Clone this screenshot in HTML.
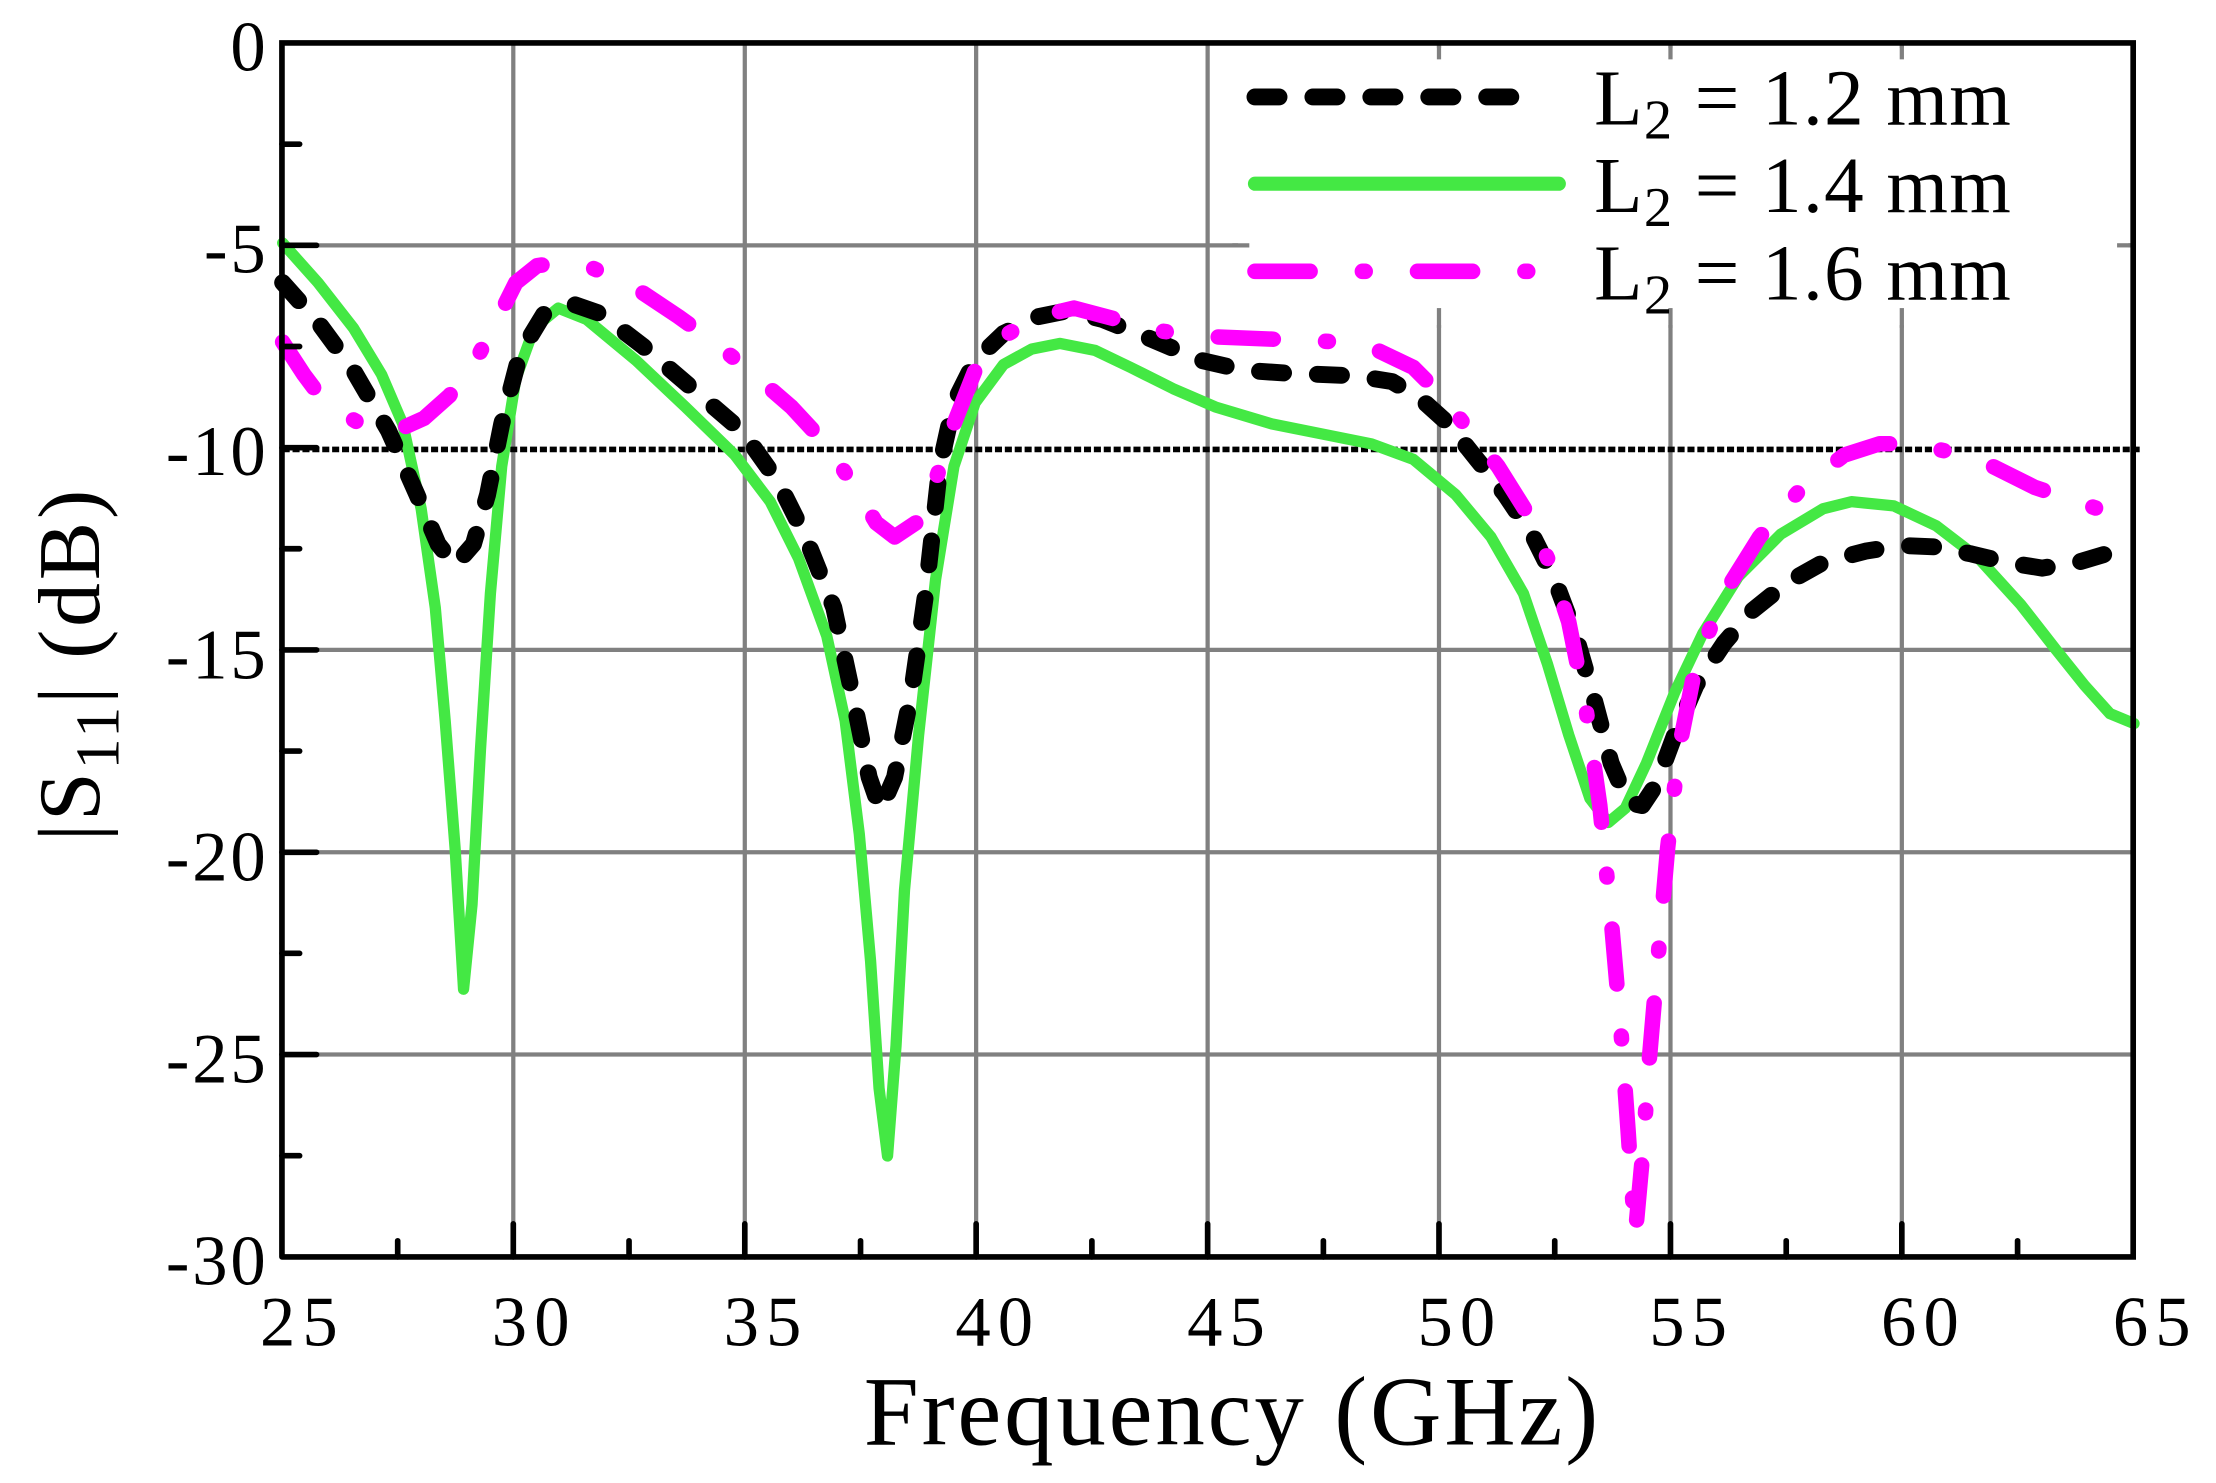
<!DOCTYPE html>
<html><head><meta charset="utf-8"><style>
html,body{margin:0;padding:0;background:#fff;}
svg{display:block;}
text{font-family:"Liberation Serif",serif;fill:#000;}
</style></head><body>
<svg width="2216" height="1483" viewBox="0 0 1568 1049.4" preserveAspectRatio="none" xmlns="http://www.w3.org/2000/svg">
<g stroke="#808080" stroke-width="3">
<line x1="363.2" y1="30.4" x2="363.2" y2="889.4"/>
<line x1="527" y1="30.4" x2="527" y2="889.4"/>
<line x1="690.7" y1="30.4" x2="690.7" y2="889.4"/>
<line x1="854.5" y1="30.4" x2="854.5" y2="889.4"/>
<line x1="1018.2" y1="30.4" x2="1018.2" y2="889.4"/>
<line x1="1182" y1="30.4" x2="1182" y2="889.4"/>
<line x1="1345.7" y1="30.4" x2="1345.7" y2="889.4"/>
<line x1="199.5" y1="173.6" x2="1509.4" y2="173.6"/>
<line x1="199.5" y1="459.9" x2="1509.4" y2="459.9"/>
<line x1="199.5" y1="603.1" x2="1509.4" y2="603.1"/>
<line x1="199.5" y1="746.2" x2="1509.4" y2="746.2"/>
</g>
<rect x="876" y="34" width="630" height="196" fill="#fff"/>
<g stroke="#808080" stroke-width="3">
<line x1="1018.2" y1="30.4" x2="1018.2" y2="42"/><line x1="1182" y1="30.4" x2="1182" y2="42"/><line x1="1345.7" y1="30.4" x2="1345.7" y2="42"/>
<line x1="1018.2" y1="218" x2="1018.2" y2="232"/><line x1="1182" y1="218" x2="1182" y2="232"/><line x1="1345.7" y1="218" x2="1345.7" y2="232"/>
<line x1="872" y1="173.6" x2="884" y2="173.6"/><line x1="1498" y1="173.6" x2="1509" y2="173.6"/>
</g>
<line x1="200" y1="318" x2="1515" y2="318" stroke="#000" stroke-width="4" stroke-dasharray="5 2"/>
<g fill="none" stroke-linejoin="round" stroke-linecap="round">
<polyline stroke="#44e844" stroke-width="8" points="200,172 225,200 250,232 270,265 285,300 298,360 308,430 315,510 322,600 328,700 334,640 340,530 347,420 355,330 365,268 378,232 395,218 415,226 450,255 485,288 520,322 545,355 565,395 585,450 598,510 608,590 616,680 622,770 628,818 634,740 640,630 650,520 662,410 675,330 690,285 710,258 730,247 750,243 775,248 800,260 830,275 860,288 900,300 940,308 970,314 1000,325 1030,350 1055,380 1078,420 1095,470 1110,520 1125,565 1138,582 1150,572 1165,540 1185,490 1205,448 1230,408 1260,378 1290,360 1310,355 1340,358 1370,372 1400,395 1430,428 1455,460 1475,485 1493,505 1510,512"/>
<polyline stroke="#000" stroke-width="12" stroke-dasharray="17 24" points="200,200 225,228 250,262 275,305 295,350 310,385 322,400 335,385 345,350 355,300 368,250 385,222 405,215 425,222 455,245 490,275 525,305 550,340 570,380 590,430 605,500 615,550 623,573 633,550 645,490 655,420 665,330 675,285 690,255 710,236 735,224 755,220 780,226 810,238 850,255 880,262 910,264 960,266 985,270 1005,282 1025,300 1045,325 1065,350 1085,380 1100,410 1115,450 1128,495 1140,540 1152,568 1162,570 1172,555 1185,520 1200,485 1220,455 1240,432 1265,412 1290,398 1320,390 1345,386 1370,387 1395,392 1420,398 1445,402 1470,398 1490,392 1510,385"/>
<polyline stroke="#ff00ff" stroke-width="11" stroke-dasharray="39 37 2 37" points="200,242 215,265 230,285 255,300 280,305 300,296 318,280 335,258 350,230 365,200 380,188 395,186 420,190 450,204 480,224 505,242 530,262 560,288 585,315 605,345 620,370 633,380 648,370 662,340 675,300 690,262 710,238 735,224 760,218 790,226 820,234 850,238 900,240 950,242 975,248 1000,260 1020,280 1040,305 1060,330 1080,362 1095,395 1110,440 1122,500 1132,570 1140,650 1147,730 1152,800 1157,875 1162,820 1167,750 1173,680 1180,600 1188,530 1200,470 1220,420 1245,380 1275,345 1305,322 1330,314 1355,314 1380,320 1410,330 1440,345 1470,355 1490,362"/>
</g>
<g stroke="#000" stroke-width="4" stroke-linecap="round">
<polyline fill="none" points="199.5,889.4 199.5,30.4 1509.4,30.4 1509.4,889.4 199.5,889.4"/>
<line x1="199.5" y1="102" x2="212" y2="102"/><line x1="199.5" y1="173.6" x2="224" y2="173.6"/>
<line x1="199.5" y1="245.2" x2="212" y2="245.2"/><line x1="199.5" y1="316.8" x2="224" y2="316.8"/>
<line x1="199.5" y1="388.3" x2="212" y2="388.3"/><line x1="199.5" y1="459.9" x2="224" y2="459.9"/>
<line x1="199.5" y1="531.5" x2="212" y2="531.5"/><line x1="199.5" y1="603.1" x2="224" y2="603.1"/>
<line x1="199.5" y1="674.6" x2="212" y2="674.6"/><line x1="199.5" y1="746.2" x2="224" y2="746.2"/>
<line x1="199.5" y1="817.8" x2="212" y2="817.8"/>
<line x1="281.4" y1="889.4" x2="281.4" y2="878"/><line x1="363.2" y1="889.4" x2="363.2" y2="866"/>
<line x1="445.1" y1="889.4" x2="445.1" y2="878"/><line x1="527" y1="889.4" x2="527" y2="866"/>
<line x1="608.9" y1="889.4" x2="608.9" y2="878"/><line x1="690.7" y1="889.4" x2="690.7" y2="866"/>
<line x1="772.6" y1="889.4" x2="772.6" y2="878"/><line x1="854.5" y1="889.4" x2="854.5" y2="866"/>
<line x1="936.4" y1="889.4" x2="936.4" y2="878"/><line x1="1018.2" y1="889.4" x2="1018.2" y2="866"/>
<line x1="1100.1" y1="889.4" x2="1100.1" y2="878"/><line x1="1182" y1="889.4" x2="1182" y2="866"/>
<line x1="1263.9" y1="889.4" x2="1263.9" y2="878"/><line x1="1345.7" y1="889.4" x2="1345.7" y2="866"/>
<line x1="1427.6" y1="889.4" x2="1427.6" y2="878"/>
</g>
<g font-size="50" text-anchor="end" letter-spacing="2">
<text x="190" y="50">0</text><text x="190" y="193">-5</text><text x="190" y="336">-10</text>
<text x="190" y="480">-15</text><text x="190" y="623">-20</text><text x="190" y="766">-25</text><text x="190" y="909">-30</text>
</g>
<g font-size="50" text-anchor="middle" letter-spacing="5">
<text x="214" y="952">25</text><text x="378" y="952">30</text><text x="542" y="952">35</text><text x="706" y="952">40</text>
<text x="870" y="952">45</text><text x="1033" y="952">50</text><text x="1197" y="952">55</text><text x="1361" y="952">60</text><text x="1525" y="952">65</text>
</g>
<text x="872" y="1022" font-size="70" text-anchor="middle" letter-spacing="2">Frequency (GHz)</text>
<text transform="translate(70,470) rotate(-90)" font-size="62" text-anchor="middle" letter-spacing="2">|S<tspan font-size="44" dy="14">11</tspan><tspan dy="-14">| (dB)</tspan></text>
<g fill="none" stroke-linecap="round">
<line x1="888" y1="68.6" x2="1075" y2="68.6" stroke="#000" stroke-width="12" stroke-dasharray="17 24"/>
<line x1="888" y1="130" x2="1103" y2="130" stroke="#44e844" stroke-width="10"/>
<line x1="888" y1="192" x2="1082" y2="192" stroke="#ff00ff" stroke-width="11" stroke-dasharray="39 37 2 37"/>
</g>
<g font-size="56" letter-spacing="1">
<text x="1128" y="88">L<tspan font-size="40" dy="10">2</tspan><tspan dy="-10"> = 1.2 mm</tspan></text>
<text x="1128" y="150">L<tspan font-size="40" dy="10">2</tspan><tspan dy="-10"> = 1.4 mm</tspan></text>
<text x="1128" y="212">L<tspan font-size="40" dy="10">2</tspan><tspan dy="-10"> = 1.6 mm</tspan></text>
</g>
</svg>
</body></html>
